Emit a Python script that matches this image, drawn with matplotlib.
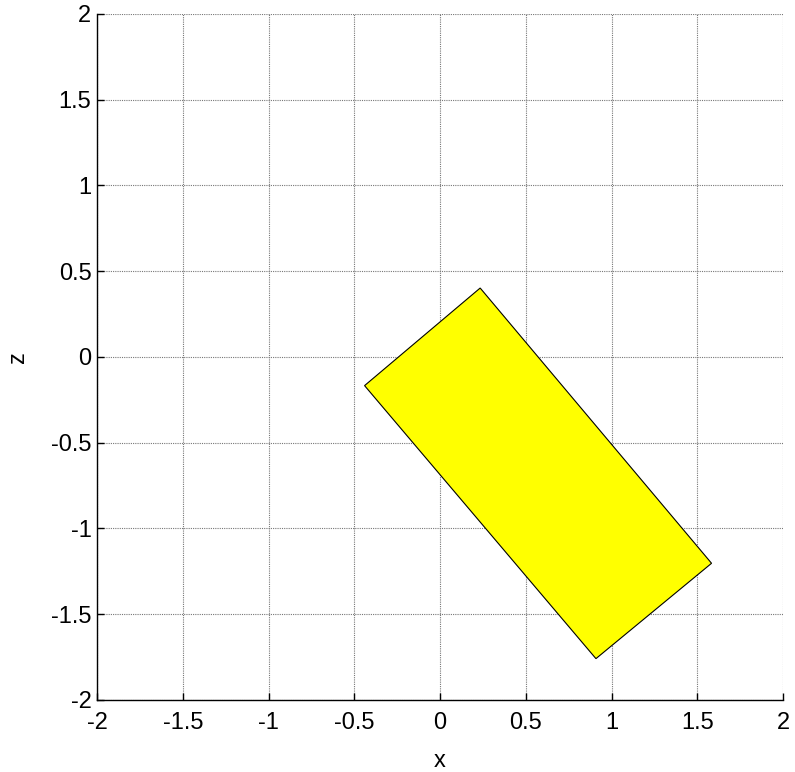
import matplotlib
matplotlib.use('Agg')
import matplotlib.pyplot as plt
from matplotlib.patches import Polygon

# corners of the rectangle (x, z)
rect_x = [-0.44, 0.234, 1.583, 0.909]
rect_z = [-0.167, 0.402, -1.203, -1.759]

ticks = [-2, -1.5, -1, -0.5, 0, 0.5, 1, 1.5, 2]
tick_labels = ['-2', '-1.5', '-1', '-0.5', '0', '0.5', '1', '1.5', '2']

plt.rcParams['font.family'] = ['Liberation Sans', 'DejaVu Sans']

fig = plt.figure(figsize=[7.95, 7.72], dpi=100)
ax = fig.add_axes([0.122, 0.0933, 0.863, 0.8886])

ax.add_patch(Polygon(list(zip(rect_x, rect_z)), closed=True,
                     facecolor='#ffff00', edgecolor='black', linewidth=0.8, zorder=3))

ax.set_xlim(-2, 2)
ax.set_ylim(-2, 2)
ax.set_xticks(ticks)
ax.set_xticklabels(tick_labels)
ax.set_yticks(ticks)
ax.set_yticklabels(tick_labels)

ax.grid(True, color='#777777', linestyle=(0, (1, 1)), linewidth=0.8)
ax.set_axisbelow(True)
ax.spines['top'].set_visible(False)
ax.spines['right'].set_visible(False)
ax.spines['left'].set_linewidth(1.0)
ax.spines['bottom'].set_linewidth(1.0)
ax.tick_params(direction='in', length=5, width=1, labelsize=17)
ax.tick_params(axis='x', pad=9)
ax.tick_params(axis='y', pad=4)

ax.set_xlabel('x', fontsize=17, labelpad=11)
ax.set_ylabel('z', fontsize=17, labelpad=16)

fig.savefig('out.png', dpi=100)
